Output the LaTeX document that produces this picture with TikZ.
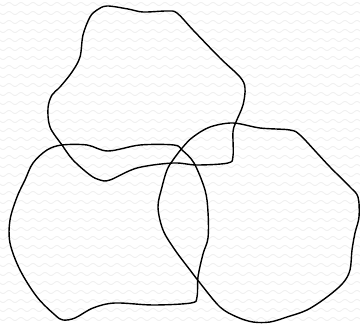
\documentclass[tikz,border=0pt]{standalone}
\definecolor{wavegray}{HTML}{F0F0F0}

\begin{document}
\begin{tikzpicture}[
    x=1pt, y=-1pt,
    blob/.style={draw=black, line width=1.4pt, line join=round},
    bgwave/.style={draw=wavegray, line width=0.8pt},
]

\useasboundingbox (0,0) rectangle (360,326);

% Background waves
\foreach \r in {0,9,...,326}{
    \draw[bgwave] plot[domain=0:360, samples=181]
        (\x, {\r + 4 + 1.6*sin(\x*30)});
}

% Top loop
\draw[blob] plot[smooth cycle, tension=0.55] coordinates {
    (48,108) (52,95) (60,87) (72,72) (80,57) (83,35) (90,17) (97,10)
    (107,6) (128,9) (143,12) (167,11) (177,13) (193,30) (220,58)
    (240,77) (245,88) (243,105) (236,122) (233,132) (233,156)
    (228,163) (197,165) (173,163) (137,168) (110,180) (100,180)
    (90,175) (73,160) (62,145) (50,127)
};

% Left loop
\draw[blob] plot[smooth cycle, tension=0.55] coordinates {
    (47,150) (62,145) (87,145) (108,151) (140,145) (174,145)
    (182,150) (194,163) (205,190) (208,212) (208,238) (203,254)
    (198,277) (197,297) (191,303) (153,305) (115,303) (93,308)
    (75,318) (63,320) (55,315) (37,297) (20,270) (10,243)
    (10,220) (17,197) (25,180) (33,163)
};

% Right loop
\draw[blob] plot[smooth cycle, tension=0.55] coordinates {
    (183,147) (193,137) (210,127) (233,123) (260,128) (290,130)
    (300,135) (317,153) (330,167) (350,187) (358,197) (359,217)
    (355,233) (352,250) (350,270) (343,283) (327,297) (307,310)
    (287,317) (270,322) (253,322) (237,317) (220,307) (200,283)
    (190,270) (175,250) (163,230) (158,207) (162,187) (167,170)
    (173,160)
};

\end{tikzpicture}
\end{document}
